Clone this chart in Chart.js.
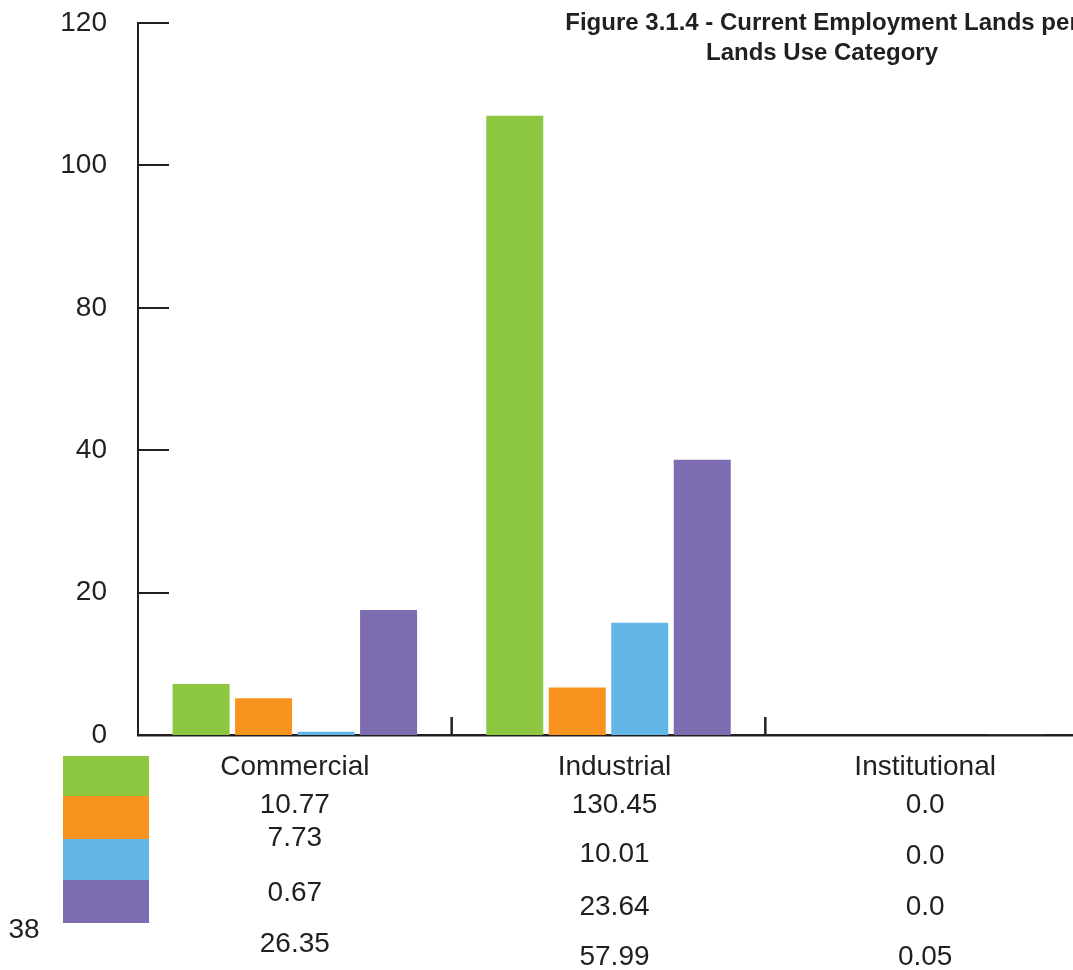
<!DOCTYPE html>
<html>
<head>
<meta charset="utf-8">
<script src="https://cdn.jsdelivr.net/npm/chart.js@4/dist/chart.umd.min.js"></script>
<style>
  html, body { margin: 0; padding: 0; background: #ffffff; overflow: hidden; }
  #wrap { width: 1100px; height: 970px; }
</style>
</head>
<body>
<div id="wrap"><canvas id="chart" width="1100" height="970"></canvas></div>
<script>
// Employment land area by land use category (one array per series)
const categories = ['Commercial', 'Industrial', 'Institutional'];
const greenValues  = [10.77, 130.45, 0.0];
const orangeValues = [7.73, 10.01, 0.0];
const blueValues   = [0.67, 23.64, 0.0];
const purpleValues = [26.35, 57.99, 0.05];

// Value-axis labels as printed on the figure
const yTickLabels = ['0', '20', '40', '80', '100', '120'];

const titleLines = ['Figure 3.1.4 - Current Employment Lands per', 'Lands Use Category'];
const pageNumber = '38';

const FONT = "'Liberation Sans', Arial, Helvetica, sans-serif";
const INK = '#231F20';

function formatValue(v) {
  return Number.isInteger(v) ? v.toFixed(1) : String(v);
}

// Keep the plot area exactly where the layout padding puts it
function noOverflow(scale) {
  scale.paddingTop = 0;
  scale.paddingBottom = 0;
  scale.paddingLeft = 0;
  scale.paddingRight = 0;
}

// Short inward tick marks on the value axis and category separators on the base line
const axisMarks = {
  id: 'axisMarks',
  afterDraw(chart) {
    const { ctx, chartArea, scales } = chart;
    const y = scales.y, x = scales.x;
    ctx.save();
    ctx.strokeStyle = INK;
    ctx.lineWidth = 2;
    y.ticks.forEach(t => {
      if (t.value === 0) return;
      const py = Math.round(y.getPixelForValue(t.value));
      ctx.beginPath();
      ctx.moveTo(chartArea.left, py);
      ctx.lineTo(chartArea.left + 31, py);
      ctx.stroke();
    });
    ctx.lineWidth = 2.5;
    for (let i = 0; i < categories.length - 1; i++) {
      const bx = (x.getPixelForValue(i) + x.getPixelForValue(i + 1)) / 2;
      ctx.beginPath();
      ctx.moveTo(bx, chartArea.bottom);
      ctx.lineTo(bx, chartArea.bottom - 18);
      ctx.stroke();
    }
    ctx.restore();
  }
};

// Category names, colour key, value table, heading and page number
const tableAndHeading = {
  id: 'tableAndHeading',
  afterDraw(chart, args, opts) {
    const { ctx, scales } = chart;
    const x = scales.x;
    ctx.save();

    // colour key
    const edges = opts.swatchEdges;
    chart.data.datasets.forEach((ds, i) => {
      ctx.fillStyle = ds.backgroundColor;
      ctx.fillRect(opts.swatchLeft, edges[i], opts.swatchWidth, edges[i + 1] - edges[i]);
    });

    // category names and the values under each one
    ctx.fillStyle = INK;
    ctx.font = `28px ${FONT}`;
    ctx.textAlign = 'center';
    ctx.textBaseline = 'middle';
    categories.forEach((c, ci) => {
      const cx = x.getPixelForValue(ci) + opts.columnShift[ci];
      ctx.fillText(c, cx, opts.nameCentre);
      const rows = opts.rowCentres[ci];
      chart.data.datasets.forEach((ds, si) => {
        ctx.fillText(formatValue(ds.data[ci]), cx, rows[si]);
      });
    });

    // page number
    ctx.fillText(pageNumber, opts.pageX, opts.pageY);

    // heading
    ctx.font = `bold 24px ${FONT}`;
    ctx.textBaseline = 'alphabetic';
    titleLines.forEach((line, i) => {
      ctx.fillText(line, opts.titleX, opts.titleBaselines[i]);
    });
    ctx.restore();
  }
};

new Chart(document.getElementById('chart'), {
  type: 'bar',
  data: {
    labels: categories,
    datasets: [
      { label: 'Series 1', data: greenValues,  backgroundColor: '#8DC63F' },
      { label: 'Series 2', data: orangeValues, backgroundColor: '#F7931E' },
      { label: 'Series 3', data: blueValues,   backgroundColor: '#62B5E4' },
      { label: 'Series 4', data: purpleValues, backgroundColor: '#7D6CB0' }
    ]
  },
  options: {
    responsive: false,
    animation: false,
    layout: { padding: { left: 0, right: 21, top: 23, bottom: 0 } },
    datasets: { bar: { categoryPercentage: 0.797, barPercentage: 0.912 } },
    plugins: {
      legend: { display: false },
      tooltip: { enabled: false },
      title: { display: false },
      tableAndHeading: {
        swatchLeft: 63,
        swatchWidth: 86,
        swatchEdges: [756, 796, 839, 880, 923],
        columnShift: [0, 6, 3],
        nameCentre: 767,
        rowCentres: [
          [805, 838, 893, 944],
          [805, 854, 907, 957],
          [805, 856, 907, 957]
        ],
        pageX: 24,
        pageY: 930,
        titleX: 822,
        titleBaselines: [30, 60]
      }
    },
    scales: {
      x: {
        grid: { display: false, drawTicks: false },
        border: { display: true, color: INK, width: 2.5 },
        ticks: { display: false },
        afterFit(scale) { scale.height = 235; noOverflow(scale); }
      },
      y: {
        min: 0,
        max: 150,
        grid: { display: false, drawTicks: false },
        border: { display: true, color: INK, width: 2 },
        ticks: {
          stepSize: 30,
          color: INK,
          font: { family: FONT, size: 28 },
          padding: 31,
          callback: (v, i) => yTickLabels[i]
        },
        afterFit(scale) { scale.width = 138; noOverflow(scale); }
      }
    }
  },
  plugins: [axisMarks, tableAndHeading]
});
</script>
</body>
</html>
